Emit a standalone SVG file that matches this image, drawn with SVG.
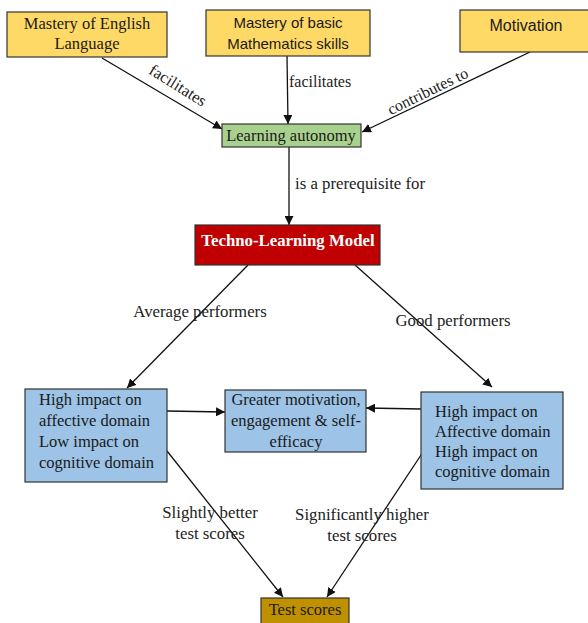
<svg xmlns="http://www.w3.org/2000/svg" width="588" height="623" viewBox="0 0 588 623">
<style>
.box{stroke:#333;stroke-width:1.2}
.y{fill:#FFD966}.g{fill:#A9D18E}.b{fill:#9DC3E6}.r{fill:#C00000}.t{fill:#BF9000}
.serif{font-family:"Liberation Serif","Times New Roman",serif;font-size:16.5px;fill:#1a1a1a}
.sans{font-family:"Liberation Sans",Arial,sans-serif;font-size:15px;fill:#1a1a1a}
.lbl{font-family:"Liberation Serif","Times New Roman",serif;font-size:16.8px;fill:#222}
.c{stroke:#111;stroke-width:1.3;fill:none;marker-end:url(#ah)}
</style>
<defs>
<marker id="ah" viewBox="0 0 10 10" refX="10" refY="5" markerWidth="9" markerHeight="9" markerUnits="userSpaceOnUse" orient="auto">
<path d="M0,0 L10,5 L0,10 z" fill="#111"/>
</marker>
</defs>
<rect width="588" height="623" fill="#fff"/>
<g id="connectors">
<line class="c" x1="102" y1="58" x2="222" y2="129"/>
<line class="c" x1="287" y1="56" x2="288" y2="124"/>
<line class="c" x1="530" y1="52" x2="362" y2="132"/>
<line class="c" x1="289" y1="147" x2="289" y2="225"/>
<line class="c" x1="248" y1="265" x2="127" y2="388"/>
<line class="c" x1="355" y1="265" x2="492" y2="387"/>
<line class="c" x1="167" y1="411" x2="225" y2="412"/>
<line class="c" x1="421" y1="409" x2="366" y2="408"/>
<line class="c" x1="167" y1="451" x2="283" y2="597"/>
<line class="c" x1="423" y1="452" x2="327" y2="597"/>
<text class="lbl" transform="translate(175,90) rotate(32)" text-anchor="middle" style="font-size:16.5px">facilitates</text>
<text class="lbl" x="289" y="87" style="font-size:16px">facilitates</text>
<text class="lbl" transform="translate(430,96) rotate(-26)" text-anchor="middle" style="font-size:16px">contributes to</text>
<text class="lbl" x="295" y="189">is a prerequisite for</text>
<text class="lbl" x="200" y="317" text-anchor="middle">Average performers</text>
<text class="lbl" x="453" y="326" text-anchor="middle">Good performers</text>
<text class="lbl" x="210" y="518" text-anchor="middle">Slightly better</text>
<text class="lbl" x="210" y="539" text-anchor="middle">test scores</text>
<text class="lbl" x="362" y="520" text-anchor="middle">Significantly higher</text>
<text class="lbl" x="362" y="541" text-anchor="middle">test scores</text>
</g>
<g id="english">
<rect class="box y" x="7" y="12" width="160" height="45"/>
<text class="serif" x="87" y="29" text-anchor="middle">Mastery of English</text>
<text class="serif" x="87" y="49" text-anchor="middle">Language</text>
</g>
<g id="math">
<rect class="box y" x="206" y="10" width="164" height="46"/>
<text class="sans" x="288" y="28" text-anchor="middle">Mastery of basic</text>
<text class="sans" x="288" y="49" text-anchor="middle">Mathematics skills</text>
</g>
<g id="motivation">
<rect class="box y" x="460" y="10" width="134" height="42"/>
<text class="sans" x="526" y="31" text-anchor="middle" style="font-size:16px">Motivation</text>
</g>
<g id="autonomy">
<rect class="box g" x="222" y="124" width="139" height="23"/>
<text class="serif" x="291" y="141" text-anchor="middle">Learning autonomy</text>
</g>
<g id="techno">
<rect class="box r" x="195" y="225" width="185" height="40"/>
<text x="288" y="246" text-anchor="middle" style="font-family:'Liberation Serif','Times New Roman',serif;font-size:16.8px;font-weight:bold;fill:#fff">Techno-Learning Model</text>
</g>
<g id="average">
<rect class="box b" x="25" y="389" width="142" height="93"/>
<text class="serif" x="39" y="405">High impact on</text>
<text class="serif" x="39" y="426">affective domain</text>
<text class="serif" x="39" y="447">Low impact on</text>
<text class="serif" x="39" y="468">cognitive domain</text>
</g>
<g id="greater">
<rect class="box b" x="225" y="390" width="141" height="62"/>
<text class="serif" x="296" y="405" text-anchor="middle">Greater motivation,</text>
<text class="serif" x="296" y="426" text-anchor="middle">engagement &amp; self-</text>
<text class="serif" x="296" y="447" text-anchor="middle">efficacy</text>
</g>
<g id="good">
<rect class="box b" x="421" y="392" width="142" height="97"/>
<text class="serif" x="435" y="417">High impact on</text>
<text class="serif" x="435" y="437">Affective domain</text>
<text class="serif" x="435" y="457">High impact on</text>
<text class="serif" x="435" y="477">cognitive domain</text>
</g>
<g id="testscores">
<rect class="box t" x="261" y="598" width="88" height="30"/>
<text class="serif" x="305" y="615" text-anchor="middle">Test scores</text>
</g>
</svg>
